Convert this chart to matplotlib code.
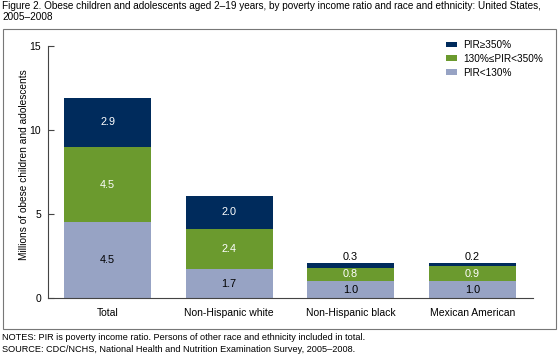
import matplotlib.pyplot as plt
from matplotlib.patches import Rectangle
import numpy as np

plt.rcParams["font.family"] = ["Liberation Sans", "DejaVu Sans"]

groups = ["Total", "Non-Hispanic white", "Non-Hispanic black", "Mexican American"]
pir_low = [4.5, 1.7, 1.0, 1.0]
pir_mid = [4.5, 2.4, 0.8, 0.9]
pir_high = [2.9, 2.0, 0.3, 0.2]
series_names = ["PIR<130%", "130%\u2264PIR<350%", "PIR\u2265350%"]
colors = ["#97a3c4", "#6b9a2e", "#002b5c"]
text_colors = ["black", "white", "white"]

W, H = 560, 356
fig = plt.figure(figsize=(5.6, 3.56), dpi=100)
ax = fig.add_axes([48 / W, 1 - 298 / H, 485 / W, 252 / H])

x = np.arange(len(groups))
bottom = np.zeros(len(groups))
handles = []
for vals, col, tcol, name in zip([pir_low, pir_mid, pir_high], colors, text_colors, series_names):
    vals = np.array(vals)
    bars = ax.bar(x, vals, 0.715, bottom=bottom, color=col, label=name)
    handles.append(bars)
    for xi, b, v in zip(x, bottom, vals):
        if v < 0.5:
            ax.text(xi, b + v + 0.04, f"{v:.1f}", ha="center", va="bottom", fontsize=7.8, color="black")
        else:
            ax.text(xi, b + v / 2, f"{v:.1f}", ha="center", va="center", fontsize=7.8, color=tcol)
    bottom += vals

ax.set_xlim(-0.49, 3.5)
ax.set_ylim(0, 15)
ax.set_yticks([0, 5, 10, 15])
ax.set_xticks(x)
ax.set_xticklabels(groups, fontsize=7.5)
ax.tick_params(axis="x", length=0, pad=7)
ax.tick_params(axis="y", labelsize=7.5, length=4.5, direction="in", color="#444444", pad=5)
for side in ("top", "right"):
    ax.spines[side].set_visible(False)
for side in ("left", "bottom"):
    ax.spines[side].set_color("#444444")
ax.set_ylabel("Millions of obese children and adolescents", fontsize=7.3)
ax.yaxis.set_label_coords(-19 / 485, 0.53)

ax.legend(handles[::-1], series_names[::-1], loc="upper left",
          bbox_to_anchor=(446 / W, 1 - 40 / H), bbox_transform=fig.transFigure,
          frameon=False, fontsize=7.2, handlelength=1.1, handleheight=0.5,
          labelspacing=0.38, handletextpad=0.6, borderpad=0, borderaxespad=0)

fig.patches.append(Rectangle((3 / W, 1 - 329 / H), 553 / W, 300 / H,
                             transform=fig.transFigure, fill=False, edgecolor="#777777", lw=0.8))

fig.text(0.004, 1 - 1 / H,
         "Figure 2. Obese children and adolescents aged 2\u201319 years, by poverty income ratio and race and ethnicity: United States,\n2005\u20132008",
         fontsize=7.2, va="top", ha="left", linespacing=1.15)
fig.text(0.004, 1 - 338 / H, "NOTES: PIR is poverty income ratio. Persons of other race and ethnicity included in total.",
         fontsize=6.6, va="center", ha="left")
fig.text(0.004, 1 - 350 / H, "SOURCE: CDC/NCHS, National Health and Nutrition Examination Survey, 2005\u20132008.",
         fontsize=6.6, va="center", ha="left")

fig.savefig("out.png", dpi=100)
